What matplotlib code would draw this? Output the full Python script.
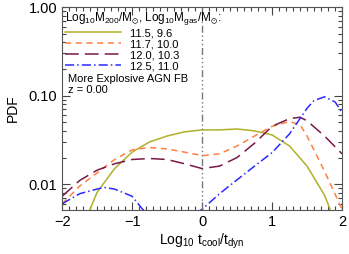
import matplotlib
matplotlib.use("Agg")
import matplotlib.pyplot as plt
from matplotlib.ticker import FixedLocator, MultipleLocator, NullFormatter

plt.rcParams["font.family"] = ["Liberation Sans", "DejaVu Sans"]
plt.rcParams["mathtext.default"] = "regular"

# log10 t_cool/t_dyn and PDF per halo mass bin
x_a = [-1.6, -1.5, -1.25, -1.0, -0.75, -0.5, -0.25, 0.0, 0.25, 0.5, 0.75, 1.0, 1.25, 1.5, 1.75, 1.83]
y_a = [0.0052, 0.0081, 0.015, 0.023, 0.030, 0.035, 0.039, 0.041, 0.041, 0.042, 0.040, 0.036, 0.027, 0.016, 0.0075, 0.0052]

x_b = [-2.0, -1.75, -1.5, -1.25, -1.0, -0.75, -0.5, -0.25, 0.0, 0.25, 0.5, 0.75, 1.0, 1.25, 1.4, 1.5, 1.75, 2.0]
y_b = [0.006, 0.0095, 0.0134, 0.019, 0.0244, 0.026, 0.025, 0.023, 0.021, 0.022, 0.027, 0.035, 0.045, 0.051, 0.047, 0.035, 0.014, 0.0052]

x_c = [-2.0, -1.75, -1.5, -1.25, -1.0, -0.75, -0.5, -0.25, 0.0, 0.25, 0.5, 0.75, 1.0, 1.25, 1.4, 1.5, 1.75, 2.0]
y_c = [0.0073, 0.011, 0.0144, 0.017, 0.019, 0.0195, 0.019, 0.017, 0.015, 0.016, 0.020, 0.029, 0.045, 0.055, 0.057, 0.052, 0.035, 0.022]

x_d = [-2.0, -1.75, -1.5, -1.4, -1.25, -1.0, -0.85, -0.5, -0.25, 0.0, 0.25, 0.5, 0.75, 1.0, 1.25, 1.5, 1.6, 1.75, 1.9, 2.0]
y_d = [0.006, 0.0078, 0.0088, 0.0092, 0.0088, 0.0073, 0.0052, 0.0035, 0.004, 0.0052, 0.0078, 0.0112, 0.016, 0.0227, 0.037, 0.072, 0.088, 0.097, 0.085, 0.065]

labels = ["11.5, 9.6", "11.7, 10.0", "12.0, 10.3", "12.5, 11.0"]
colors = ["#b0b02a", "#ff8040", "#7a1848", "#2a2aff"]
styles = ["-", (0, (4, 3)), (0, (9, 4)), (0, (6, 2, 1, 2))]

fig = plt.figure(figsize=(3.49, 2.54), dpi=100)
ax = fig.add_axes([0.178, 0.173, 0.802, 0.799])

for xs, ys, lab, c, ls in zip([x_a, x_b, x_c, x_d], [y_a, y_b, y_c, y_d], labels, colors, styles):
    ax.plot(xs, ys, color=c, ls=ls, lw=1.1, label=lab)

ax.axvline(0, color="#777777", lw=1.0, ls=(0, (5, 2, 1, 2, 1, 2, 1, 2)))

ax.set_yscale("log")
ax.set_xlim(-2, 2)
ax.set_ylim(0.0051, 1.0)
ax.set_yticks([0.01, 0.1, 1.0])
ax.set_yticklabels(["0.01", "0.10", "1.00"])
ax.yaxis.set_minor_formatter(NullFormatter())
ax.xaxis.set_major_locator(FixedLocator([-2, -1, 0, 1, 2]))
ax.set_xticklabels(["\u22122", "\u22121", "0", "1", "2"])
ax.xaxis.set_minor_locator(MultipleLocator(0.1))
ax.tick_params(which="both", direction="in", top=True, right=True, labelsize=10.5, color="#444444")
ax.tick_params(which="major", length=6, width=0.8)
ax.tick_params(which="minor", length=3, width=0.8)
for s in ax.spines.values():
    s.set_color("#555555")
    s.set_linewidth(0.8)

ax.set_xlabel("Log$_{10}$ t$_{cool}$/t$_{dyn}$", fontsize=10, labelpad=2)
ax.set_ylabel("PDF", fontsize=10, labelpad=6)

leg = ax.legend(loc="upper left", frameon=False, fontsize=8, handlelength=5.0,
                handletextpad=0.8, labelspacing=0.08, borderaxespad=0.1,
                title="Log$_{10}$M$_{200}$/M$_{\\odot}$, Log$_{10}$M$_{gas}$/M$_{\\odot}$:",
                title_fontsize=8.5, alignment="left", borderpad=0.2)

ax.text(0.02, 0.648, "More Explosive AGN FB", transform=ax.transAxes, fontsize=8, va="center")
ax.text(0.02, 0.593, "z = 0.00", transform=ax.transAxes, fontsize=8, va="center")

fig.savefig("out.png", dpi=100)
